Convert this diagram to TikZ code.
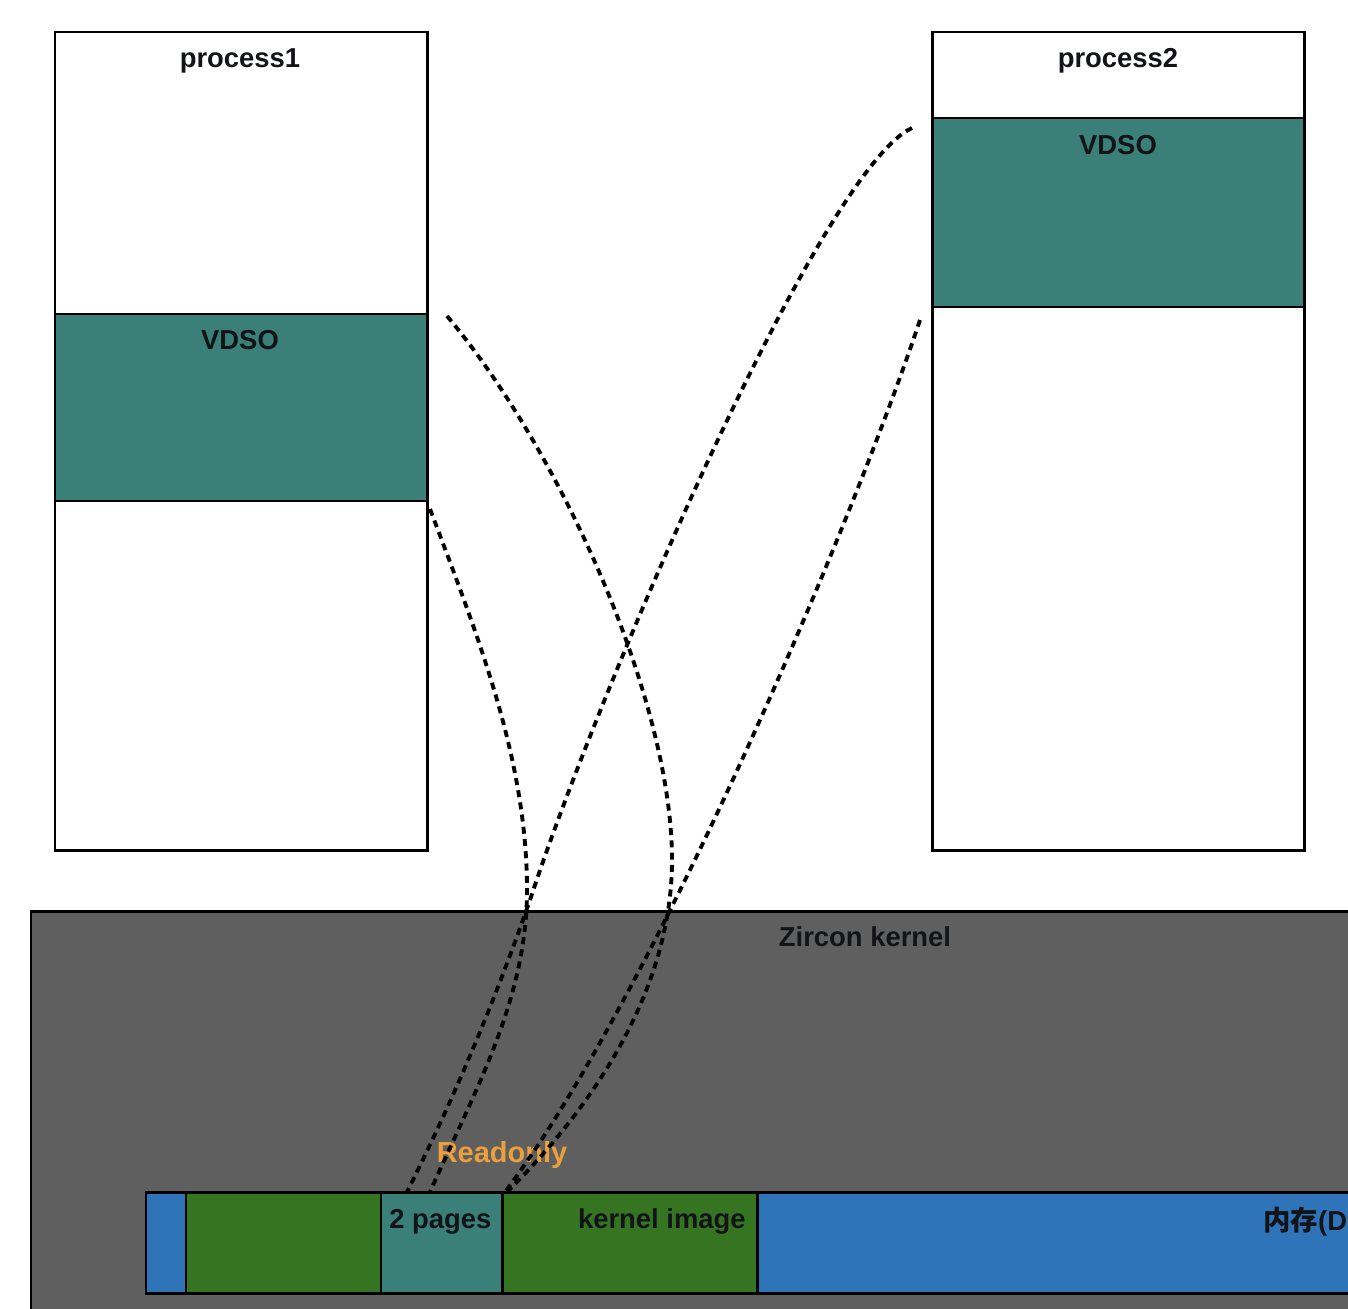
\documentclass[tikz,border=0pt]{standalone}
\usepackage{fontspec}
\setmainfont{Liberation Sans}
\newfontfamily\cjk{Noto Sans CJK SC}
\definecolor{vteal}{RGB}{58,127,120}
\definecolor{kgray}{RGB}{95,95,96}
\definecolor{mblue}{RGB}{47,116,185}
\definecolor{kgreen}{RGB}{53,117,34}
\definecolor{rorange}{RGB}{234,160,60}
\definecolor{txt}{RGB}{18,20,24}
\begin{document}
\begin{tikzpicture}[x=0.02cm,y=-0.02cm]
\tikzset{
  boxline/.style={draw=black, line width=1.7pt},
  lbl/.style={font=\fontsize{15.6}{18}\selectfont\bfseries, inner sep=0pt, text=txt},
  link/.style={draw=black, line width=2.2pt, dash pattern=on 4pt off 3pt}
}
\useasboundingbox (0,0) rectangle (1348,1308);
\clip (0,0) rectangle (1348,1308);
\fill[white] (0,0) rectangle (1348,1308);

% process 1
\draw[boxline, fill=white] (55,32) rectangle (427,850);
\draw[boxline, fill=vteal] (55,314) rectangle (427,501);
\node[lbl, anchor=base] (p1t) at (240,68) {process1};
\node[lbl, anchor=base] (p1v) at (240,349) {VDSO};

% process 2
\draw[boxline, fill=white] (932,32) rectangle (1304,850);
\draw[boxline, fill=vteal] (932,118) rectangle (1304,307);
\node[lbl, anchor=base] (p2t) at (1118,68) {process2};
\node[lbl, anchor=base] (p2v) at (1118,154) {VDSO};

% kernel
\draw[boxline, fill=kgray] (31,911) rectangle (1420,1360);
\node[lbl, anchor=base] (kt) at (865,946) {Zircon kernel};

% memory bar
\draw[boxline, fill=mblue] (146,1192) rectangle (186,1293);
\draw[boxline, fill=kgreen] (186,1192) rectangle (381,1293);
\draw[boxline, fill=vteal] (381,1192) rectangle (502,1293);
\draw[boxline, fill=kgreen] (502,1192) rectangle (757,1293);
\draw[boxline, fill=mblue] (757,1192) rectangle (1420,1293);
\node[lbl, anchor=base west] (pg) at (389,1228) {2 pages};
\node[lbl, anchor=base east] (ki) at (746,1228) {kernel image};
\node[lbl, anchor=base west] (mem) at (1263,1230) {{\cjk\bfseries 内存}(D};

\node[lbl, anchor=base, text=rorange, font=\fontsize{16.5}{19}\selectfont\bfseries] (ro) at (502,1162) {Readonly};

% connector end points
\coordinate (a1) at (447,316);
\coordinate (a2) at (430,509);
\coordinate (b1) at (912,128);
\coordinate (b2) at (920,320);
\coordinate (m1) at (672,860);
\coordinate (m2) at (527,890);
\coordinate (m3) at (530,900);
\coordinate (e1) at (507,1192);
\coordinate (e2) at (430,1192);
\coordinate (e3) at (407,1192);
\coordinate (e4) at (505,1192);

\draw[link] (a1) .. controls (560,450) and (672,700) .. (m1) .. controls (672,1000) and (580,1120) .. (e1);
\draw[link] (a2) .. controls (479,639) and (527,760) .. (m2) .. controls (527,1000) and (474,1092) .. (e2);
\draw[link] (b1) .. controls (820,170) and (595,700) .. (m3) .. controls (495,1000) and (457,1092) .. (e3);
\draw[link] (b2) .. controls (850,530) and (650,1000) .. (e4);
\end{tikzpicture}
\end{document}
